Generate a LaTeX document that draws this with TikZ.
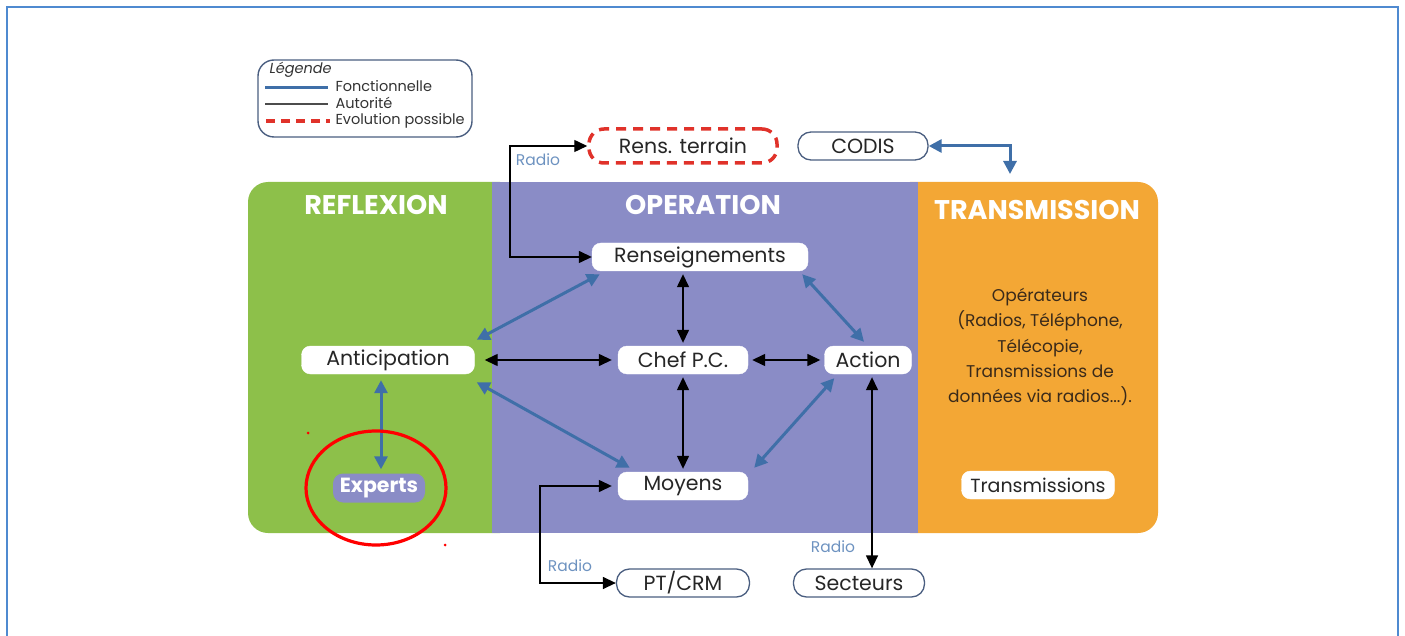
\documentclass[tikz,border=0pt]{standalone}
\usepackage{fontspec}
\setmainfont{Poppins}
\usetikzlibrary{arrows.meta,positioning,calc}
\definecolor{frameblue}{HTML}{4F8AD0}
\definecolor{fblue}{HTML}{3F6FA8}
\definecolor{slate}{HTML}{4A5E80}
\definecolor{pgreen}{HTML}{8DC04A}
\definecolor{ppurple}{HTML}{8A8CC6}
\definecolor{porange}{HTML}{F3A735}
\definecolor{radioblue}{HTML}{6D92C0}
\definecolor{dred}{HTML}{E0322A}
\definecolor{txtbrown}{HTML}{3A2A1A}
\tikzset{
  x=1pt,y=-1pt,
  wbox/.style={draw=white,fill=white,rounded corners=9pt,minimum height=28pt,inner xsep=8pt,inner sep=0pt,font=\fontsize{20.5}{22}\selectfont,text=black!85},
  obox/.style={draw=slate,line width=1.3pt,fill=white,rounded corners=13pt,minimum height=28pt,inner sep=0pt,font=\fontsize{20.5}{22}\selectfont,text=black!85},
  title/.style={text=white,font=\fontsize{27}{29}\selectfont\bfseries},
  farr/.style={draw=fblue,line width=3pt,{Triangle[length=13pt,width=13pt]}-{Triangle[length=13pt,width=13pt]}},
  aarr/.style={draw=black,line width=1.4pt,{Triangle[length=13pt,width=12pt]}-{Triangle[length=13pt,width=12pt]}},
  radio/.style={text=radioblue,font=\fontsize{15.5}{17}\selectfont},
}
\begin{document}
\begin{tikzpicture}
\useasboundingbox (0,0) rectangle (1405,636);
% outer frame (open at bottom)
\draw[frameblue,line width=2pt] (7,640) -- (7,7) -- (1398,7) -- (1398,640);
% panels
\fill[pgreen,rounded corners=20pt] (248,182) rectangle (520,533);
\fill[porange,rounded corners=20pt] (890,182) rectangle (1158,533);
\fill[ppurple] (492,182) rectangle (918,533);
\node[title] at (376,205) {REFLEXION};
\node[title] at (703,205) {OPERATION};
\node[title] at (1037,210) {TRANSMISSION};
% legend
\draw[slate,line width=1.4pt,rounded corners=16pt] (258,60) rectangle (472,137);
\node[anchor=west,font=\fontsize{14.5}{15}\selectfont\itshape,text=black!80] at (266,70) {Légende};
\draw[fblue,line width=3pt] (265,88) -- (328,88);
\node[anchor=west,font=\fontsize{14.5}{15}\selectfont,text=black!80] at (332,86) {Fonctionnelle};
\draw[black!70,line width=1.5pt] (265,104) -- (328,104);
\node[anchor=west,font=\fontsize{14.5}{15}\selectfont,text=black!80] at (332,103) {Autorité};
\draw[dred,line width=4pt,dash pattern=on 9pt off 6pt] (266,121) -- (330,121);
\node[anchor=west,font=\fontsize{14.5}{15}\selectfont,text=black!80] at (332,121) {Evolution possible};
% nodes
\node[wbox,minimum width=216pt] (ren) at (700,257) {Renseignements};
\node[wbox,minimum width=173pt] (ant) at (388,360) {Anticipation};
\node[wbox,minimum width=130pt] (chef) at (683,360) {Chef P.C.};
\node[wbox,minimum width=87pt] (act) at (868,360) {Action};
\node[wbox,minimum width=130pt] (moy) at (683,486) {Moyens};
\node[draw=none,fill=ppurple,rounded corners=10pt,minimum height=29pt,minimum width=92pt,inner sep=0pt,text=white,font=\fontsize{20.5}{22}\selectfont\bfseries] (exp) at (379,488) {Experts};
\node[wbox,minimum width=153pt,font=\fontsize{19}{21}\selectfont] (trm) at (1038,485) {Transmissions};
\node[draw=dred,line width=3.5pt,dash pattern=on 10pt off 7pt,rounded corners=15pt,minimum width=188pt,minimum height=34pt,inner sep=0pt,font=\fontsize{20.5}{22}\selectfont,text=black!85] (rt) at (683,146) {Rens. terrain};
\node[obox,minimum width=130pt] (codis) at (863,146) {CODIS};
\node[obox,minimum width=133pt] (pt) at (683,583) {PT/CRM};
\node[obox,minimum width=131pt] (sec) at (859,583) {Secteurs};
\node[align=center,text=txtbrown,font=\fontsize{17}{25.3}\selectfont] (ops) at (1040,347) {Opérateurs\\(Radios, Téléphone,\\Télécopie,\\Transmissions de\\données via radios...).};
% authority arrows (black)
\coordinate (r1) at (510,146);
\coordinate (r2) at (510,257);
\draw[aarr] (rt.west) -- (r1) -- (r2) -- (ren.west);
\node[radio] at (538,160) {Radio};
\draw[aarr] (ren.south) ++(-17,3) -- ($(chef.north)+(0,-3)$);
\draw[aarr] ($(ant.east)+(10,0)$) -- ($(chef.west)+(-6,0)$);
\draw[aarr] ($(chef.east)+(4,0)$) -- ($(act.west)+(-4,0)$);
\draw[aarr] ($(chef.south)+(0,3)$) -- ($(moy.north)+(0,-3)$);
\coordinate (m1) at (540,486);
\coordinate (m2) at (540,583);
\draw[aarr] ($(moy.west)+(-6,0)$) -- (m1) -- (m2) -- (pt.west);
\node[radio] at (570,566) {Radio};
\draw[aarr] ($(act.south)+(4,3)$) -- ($(sec.north)+(13,0)$);
\node[radio] at (833,547) {Radio};
% functional arrows (blue)
\coordinate (c1) at (1010,146);
\coordinate (c2) at (1010,174);
\draw[farr] (codis.east) -- (c1) -- (c2);
\draw[farr] ($(ant.north east)+(2,-6)$) -- ($(ren.south west)+(8,3)$);
\draw[farr] ($(ren.south east)+(-6,3)$) -- ($(act.north)+(-4,-4)$);
\draw[farr] ($(ant.south east)+(2,8)$) -- ($(moy.north west)+(12,-4)$);
\draw[farr] ($(act.south west)+(10,4)$) -- ($(moy.north east)+(6,-4)$);
\draw[farr] ($(ant.south)+(-7,6)$) -- ($(exp.north)+(2,-4)$);
% red circle
\draw[red,line width=3.2pt] (376,488) ellipse (70 and 57);
\fill[red] (308,433) circle (1.5);
\fill[red] (445,545) circle (1.5);
\end{tikzpicture}
\end{document}
